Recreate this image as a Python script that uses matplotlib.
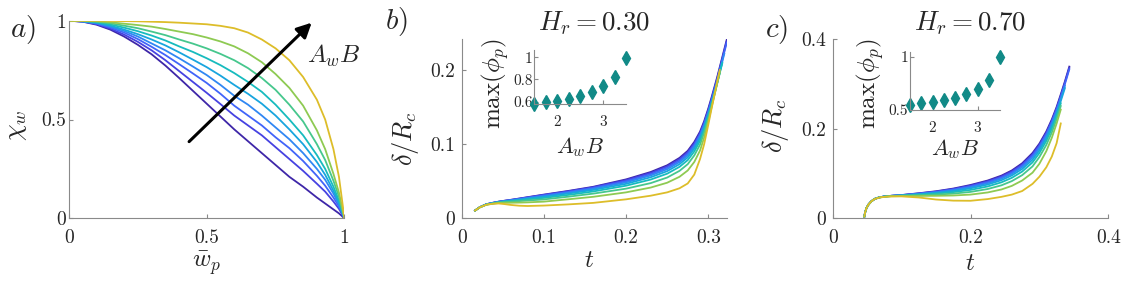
import numpy as np
import matplotlib
matplotlib.use('Agg')
import matplotlib.pyplot as plt
from matplotlib.colors import LinearSegmentedColormap

plt.rcParams['mathtext.fontset'] = 'cm'
plt.rcParams['font.family'] = 'serif'
plt.rcParams['font.serif'] = ['cmr10']
plt.rcParams['axes.formatter.use_mathtext'] = True

nan = np.nan

# panel a: chi_w vs w_p, one curve per A_w B (dark -> yellow)
wp = [0, 0.05, 0.1, 0.15, 0.2, 0.25, 0.3, 0.35, 0.4, 0.45, 0.5, 0.55, 0.6, 0.65, 0.7,
      0.75, 0.8, 0.85, 0.9, 0.93, 0.96, 0.98, 1.0]
chi = [
    [1, 0.995, 0.980, 0.955, 0.920, 0.878, 0.830, 0.773, 0.710, 0.645, 0.580, 0.515, 0.450, 0.390, 0.330,
     0.270, 0.210, 0.160, 0.105, 0.075, 0.045, 0.025, 0],
    [1, 0.996, 0.983, 0.960, 0.930, 0.893, 0.850, 0.800, 0.745, 0.690, 0.635, 0.578, 0.520, 0.470, 0.420,
     0.360, 0.300, 0.240, 0.175, 0.135, 0.085, 0.048, 0],
    [1, 0.996, 0.985, 0.966, 0.940, 0.907, 0.868, 0.826, 0.780, 0.733, 0.685, 0.630, 0.570, 0.520, 0.470,
     0.410, 0.355, 0.290, 0.215, 0.165, 0.105, 0.060, 0],
    [1, 0.997, 0.988, 0.971, 0.948, 0.920, 0.885, 0.850, 0.810, 0.768, 0.725, 0.675, 0.620, 0.575, 0.520,
     0.460, 0.400, 0.330, 0.250, 0.195, 0.125, 0.070, 0],
    [1, 0.997, 0.990, 0.975, 0.955, 0.932, 0.905, 0.875, 0.840, 0.803, 0.765, 0.722, 0.675, 0.630, 0.580,
     0.520, 0.450, 0.375, 0.285, 0.220, 0.140, 0.080, 0],
    [1, 0.998, 0.993, 0.981, 0.965, 0.947, 0.925, 0.900, 0.870, 0.842, 0.810, 0.775, 0.735, 0.690, 0.640,
     0.575, 0.500, 0.420, 0.320, 0.250, 0.160, 0.090, 0],
    [1, 0.999, 0.995, 0.987, 0.975, 0.962, 0.945, 0.927, 0.905, 0.884, 0.860, 0.832, 0.800, 0.760, 0.710,
     0.650, 0.575, 0.490, 0.375, 0.295, 0.190, 0.110, 0],
    [1, 0.999, 0.997, 0.992, 0.985, 0.978, 0.970, 0.958, 0.945, 0.932, 0.915, 0.895, 0.870, 0.835, 0.790,
     0.730, 0.660, 0.570, 0.445, 0.350, 0.225, 0.130, 0],
    [1, 1.000, 1.000, 0.999, 0.998, 0.997, 0.995, 0.993, 0.990, 0.986, 0.982, 0.974, 0.962, 0.940, 0.905,
     0.860, 0.800, 0.715, 0.600, 0.500, 0.350, 0.210, 0],
]

# panel b: H_r = 0.30
t_b = [0.0162, 0.022, 0.03, 0.038, 0.045, 0.052, 0.06, 0.07, 0.08, 0.1, 0.13, 0.16, 0.2, 0.23,
       0.25, 0.265, 0.275, 0.283, 0.29, 0.295, 0.3, 0.304, 0.308, 0.311, 0.314, 0.317, 0.3195, 0.3224]
delta_b = [
    [0.0105, 0.0150, 0.0190, 0.0210, 0.0225, 0.0237, 0.0250, 0.0267, 0.0285, 0.0320, 0.0370, 0.0425, 0.0525, 0.0625,
     0.0715, 0.0815, 0.0910, 0.1030, 0.1170, 0.1310, 0.1480, 0.1630, 0.1790, 0.1910, 0.2040, 0.2170, 0.2280, 0.2405],
    [0.0105, 0.0150, 0.0190, 0.0209, 0.0224, 0.0236, 0.0248, 0.0265, 0.0282, 0.0316, 0.0365, 0.0419, 0.0515, 0.0612,
     0.0700, 0.0798, 0.0892, 0.1010, 0.1150, 0.1290, 0.1460, 0.1610, 0.1770, 0.1890, 0.2020, 0.2150, 0.2260, 0.2385],
    [0.0105, 0.0150, 0.0189, 0.0208, 0.0223, 0.0234, 0.0245, 0.0261, 0.0278, 0.0310, 0.0357, 0.0410, 0.0500, 0.0595,
     0.0682, 0.0778, 0.0872, 0.0990, 0.1130, 0.1270, 0.1440, 0.1590, 0.1750, 0.1870, 0.2000, 0.2130, 0.2240, 0.2365],
    [0.0105, 0.0150, 0.0188, 0.0206, 0.0221, 0.0232, 0.0242, 0.0257, 0.0272, 0.0300, 0.0347, 0.0398, 0.0485, 0.0578,
     0.0662, 0.0758, 0.0850, 0.0968, 0.1108, 0.1250, 0.1420, 0.1570, 0.1730, 0.1850, 0.1980, 0.2110, 0.2220, nan],
    [0.0105, 0.0149, 0.0187, 0.0205, 0.0219, 0.0229, 0.0238, 0.0251, 0.0265, 0.0290, 0.0335, 0.0383, 0.0465, 0.0554,
     0.0636, 0.0730, 0.0822, 0.0940, 0.1080, 0.1225, 0.1400, 0.1555, 0.1715, 0.1840, 0.1970, 0.2100, nan, nan],
    [0.0105, 0.0149, 0.0186, 0.0203, 0.0216, 0.0224, 0.0232, 0.0243, 0.0255, 0.0275, 0.0316, 0.0362, 0.0440, 0.0523,
     0.0602, 0.0694, 0.0785, 0.0902, 0.1045, 0.1195, 0.1375, 0.1535, 0.1700, 0.1830, 0.1960, 0.2090, nan, nan],
    [0.0105, 0.0149, 0.0185, 0.0200, 0.0212, 0.0218, 0.0224, 0.0232, 0.0240, 0.0255, 0.0292, 0.0333, 0.0400, 0.0475,
     0.0550, 0.0640, 0.0730, 0.0848, 0.0995, 0.1155, 0.1345, 0.1515, 0.1690, 0.1825, 0.1960, nan, nan, nan],
    [0.0105, 0.0148, 0.0184, 0.0197, 0.0207, 0.0209, 0.0210, 0.0212, 0.0215, 0.0225, 0.0257, 0.0290, 0.0350, 0.0415,
     0.0480, 0.0560, 0.0645, 0.0760, 0.0915, 0.1090, 0.1305, 0.1495, 0.1685, 0.1830, 0.1970, nan, nan, nan],
    [0.0105, 0.0148, 0.0183, 0.0196, 0.0200, 0.0192, 0.0180, 0.0170, 0.0166, 0.0172, 0.0188, 0.0208, 0.0256, 0.0305,
     0.0350, 0.0405, 0.0470, 0.0590, 0.0800, 0.1000, 0.1260, 0.1480, 0.1690, 0.1850, 0.2000, nan, nan, nan],
]

# panel c: H_r = 0.70
t_c = [0.0459, 0.047, 0.049, 0.052, 0.056, 0.061, 0.068, 0.076, 0.085, 0.1, 0.125, 0.15, 0.175,
       0.2, 0.225, 0.245, 0.26, 0.275, 0.29, 0.30, 0.31, 0.318, 0.325, 0.331, 0.337, 0.3434]
delta_c = [
    [0.004, 0.013, 0.023, 0.031, 0.038, 0.0435, 0.047, 0.049, 0.0503, 0.052, 0.056, 0.0605, 0.0665,
     0.0745, 0.0845, 0.0955, 0.107, 0.123, 0.146, 0.167, 0.194, 0.221, 0.249, 0.277, 0.306, 0.339],
    [0.004, 0.013, 0.023, 0.031, 0.038, 0.0435, 0.047, 0.049, 0.0503, 0.0519, 0.0556, 0.0598, 0.0655,
     0.0730, 0.0828, 0.0935, 0.1048, 0.1205, 0.143, 0.164, 0.191, 0.218, 0.246, 0.274, 0.303, 0.336],
    [0.004, 0.013, 0.023, 0.031, 0.038, 0.0435, 0.047, 0.049, 0.0502, 0.0517, 0.0551, 0.0590, 0.0643,
     0.0715, 0.0808, 0.0913, 0.1023, 0.1178, 0.140, 0.161, 0.188, 0.215, 0.243, 0.271, 0.300, 0.333],
    [0.004, 0.013, 0.023, 0.031, 0.038, 0.0435, 0.047, 0.049, 0.0502, 0.0515, 0.0545, 0.0580, 0.0628,
     0.0695, 0.0785, 0.0887, 0.0995, 0.1145, 0.136, 0.157, 0.184, 0.211, 0.239, 0.267, 0.296, nan],
    [0.004, 0.013, 0.023, 0.031, 0.038, 0.0435, 0.047, 0.0489, 0.0501, 0.0512, 0.0538, 0.0568, 0.0610,
     0.0670, 0.0755, 0.0853, 0.0958, 0.1103, 0.131, 0.152, 0.179, 0.206, 0.234, 0.262, 0.291, nan],
    [0.004, 0.013, 0.023, 0.031, 0.038, 0.0435, 0.0469, 0.0488, 0.0499, 0.0508, 0.0528, 0.0552, 0.0585,
     0.0635, 0.0712, 0.0805, 0.0905, 0.1045, 0.125, 0.146, 0.173, 0.200, 0.229, 0.257, nan, nan],
    [0.004, 0.013, 0.023, 0.031, 0.038, 0.0434, 0.0468, 0.0486, 0.0497, 0.0503, 0.0515, 0.0530, 0.0552,
     0.0590, 0.0655, 0.0738, 0.0832, 0.0965, 0.116, 0.137, 0.164, 0.192, 0.222, 0.251, nan, nan],
    [0.004, 0.013, 0.023, 0.031, 0.038, 0.0433, 0.0466, 0.0484, 0.0494, 0.0497, 0.0500, 0.0503, 0.0510,
     0.0530, 0.0578, 0.0645, 0.0725, 0.0845, 0.102, 0.122, 0.150, 0.180, 0.212, 0.243, nan, nan],
    [0.004, 0.013, 0.023, 0.031, 0.038, 0.0432, 0.0465, 0.048, 0.0488, 0.049, 0.0465, 0.042, 0.0395,
     0.0392, 0.043, 0.048, 0.053, 0.061, 0.077, 0.093, 0.114, 0.138, 0.168, 0.212, nan, nan],
]

# insets: max(phi_p) vs A_w B
awb = [1.5, 1.75, 2.0, 2.25, 2.5, 2.75, 3.0, 3.25, 3.5]
phimax_b = [0.576, 0.594, 0.606, 0.627, 0.651, 0.690, 0.740, 0.824, 0.997]
phimax_c = [0.547, 0.5625, 0.578, 0.597, 0.616, 0.650, 0.694, 0.780, 0.994]

parula = LinearSegmentedColormap.from_list('parula', [
    (0.2422, 0.1504, 0.6603), (0.2803, 0.2782, 0.9221), (0.2440, 0.4358, 0.9988),
    (0.1540, 0.5902, 0.9218), (0.0297, 0.7082, 0.8163), (0.1938, 0.7758, 0.6251),
    (0.5044, 0.7993, 0.3480), (0.8634, 0.7406, 0.1596), (0.9892, 0.8136, 0.1885),
    (0.9763, 0.9831, 0.0538)])
colors = [parula(f) for f in np.linspace(0, 0.78, len(chi))]

spine_col = '#8a8a8a'
txt_col = '#262626'
teal = '#118a87'


def style(ax, fs=14, xpad=7.5, ypad=3):
    for s in ['top', 'right']:
        ax.spines[s].set_visible(False)
    for s in ['left', 'bottom']:
        ax.spines[s].set_color(spine_col)
        ax.spines[s].set_linewidth(0.8)
    ax.tick_params(direction='in', length=3, width=0.8, color=spine_col,
                   labelsize=fs, labelcolor=txt_col)
    ax.tick_params(axis='x', pad=xpad)
    ax.tick_params(axis='y', pad=ypad)
    ax.set_facecolor('none')


fig = plt.figure(figsize=(11.44, 2.85), dpi=100)

# ---- panel a
ax = fig.add_axes([0.0603, 0.234, 0.2408, 0.6933])
for y, c in zip(chi, colors):
    ax.plot(wp, y, color=c, lw=1.3)
ax.set_xlim(0, 1)
ax.set_ylim(0, 1)
ax.set_xticks([0, 0.5, 1])
ax.set_xticklabels(['0', '0.5', '1'])
ax.set_yticks([0, 0.5, 1])
ax.set_yticklabels(['0', '0.5', '1'])
style(ax, ypad=2)
ax.set_xlabel(r'$\bar{w}_p$', fontsize=18, va='center', color=txt_col)
ax.xaxis.set_label_coords(0.5, -0.225)
ax.set_ylabel(r'$\chi_w$', fontsize=19, va='center', color=txt_col)
ax.yaxis.set_label_coords(-0.19, 0.47)
ax.annotate('', xy=(0.881, 0.99), xytext=(0.436, 0.388),
            arrowprops=dict(arrowstyle='-|>', color='k', lw=2.2, mutation_scale=22,
                            shrinkA=0, shrinkB=0))
ax.text(0.865, 0.82, r'$A_wB$', fontsize=18, ha='left', va='center', color=txt_col)

# ---- panel b
axb = fig.add_axes([0.4036, 0.234, 0.2316, 0.628])
for y, c in zip(delta_b, colors):
    axb.plot(t_b, y, color=c, lw=1.3)
axb.set_xlim(0, 0.3224)
axb.set_ylim(0, 0.2414)
axb.set_xticks([0, 0.1, 0.2, 0.3])
axb.set_xticklabels(['0', '0.1', '0.2', '0.3'])
axb.set_yticks([0, 0.1, 0.2])
axb.set_yticklabels(['0', '0.1', '0.2'])
style(axb, ypad=4.5)
axb.set_xlabel(r'$t$', fontsize=18, va='center', color=txt_col)
axb.xaxis.set_label_coords(0.48, -0.24)
axb.set_ylabel(r'$\delta/R_c$', fontsize=19, va='center', color=txt_col)
axb.yaxis.set_label_coords(-0.214, 0.445)
axb.text(0.5, 1.088, r'$H_r = 0.30$', transform=axb.transAxes, fontsize=19.5,
         ha='center', va='center', color=txt_col)

# ---- panel c
axc = fig.add_axes([0.7279, 0.234, 0.2409, 0.628])
for y, c in zip(delta_c, colors):
    axc.plot(t_c, y, color=c, lw=1.3)
axc.set_xlim(0, 0.4)
axc.set_ylim(0, 0.4)
axc.set_xticks([0, 0.2, 0.4])
axc.set_xticklabels(['0', '0.2', '0.4'])
axc.set_yticks([0, 0.2, 0.4])
axc.set_yticklabels(['0', '0.2', '0.4'])
style(axc, ypad=4.5)
axc.set_xlabel(r'$t$', fontsize=18, va='center', color=txt_col)
axc.xaxis.set_label_coords(0.5, -0.255)
axc.set_ylabel(r'$\delta/R_c$', fontsize=19, va='center', color=txt_col)
axc.yaxis.set_label_coords(-0.209, 0.52)
axc.text(0.5, 1.088, r'$H_r = 0.70$', transform=axc.transAxes, fontsize=19.5,
         ha='center', va='center', color=txt_col)

# ---- insets
ib = fig.add_axes([0.4672, 0.634, 0.080, 0.1905])
ib.plot(awb, phimax_b, 'd', color=teal, ms=7, clip_on=False)
ib.set_xlim(1.5, 3.5)
ib.set_ylim(0.576, 1.065)
ib.set_xticks([2, 3])
ib.set_xticklabels(['2', '3'])
ib.set_yticks([0.6, 0.8, 1])
ib.set_yticklabels(['0.6', '0.8', '1'])
style(ib, fs=11, xpad=8, ypad=1.5)
ib.set_xlabel(r'$A_wB$', fontsize=16, va='center', color=txt_col)
ib.xaxis.set_label_coords(0.497, -0.78)
ib.set_ylabel(r'$\max(\phi_p)$', fontsize=18, va='center', color=txt_col)
ib.yaxis.set_label_coords(-0.43, 0.38)

ic = fig.add_axes([0.7955, 0.614, 0.0787, 0.2046])
ic.plot(awb, phimax_c, 'd', color=teal, ms=7, clip_on=False)
ic.set_xlim(1.5, 3.5)
ic.set_ylim(0.5, 1.047)
ic.set_xticks([2, 3])
ic.set_xticklabels(['2', '3'])
ic.set_yticks([0.5, 1])
ic.set_yticklabels(['0.5', '1'])
style(ic, fs=11, xpad=8, ypad=1.5)
ic.set_xlabel(r'$A_wB$', fontsize=16, va='center', color=txt_col)
ic.xaxis.set_label_coords(0.5, -0.67)
ic.set_ylabel(r'$\max(\phi_p)$', fontsize=18, va='center', color=txt_col)
ic.yaxis.set_label_coords(-0.44, 0.46)

# panel letters
fig.text(10 / 1144, 1 - 29 / 285, r'$a)$', fontsize=21, ha='left', va='center', color=txt_col)
fig.text(385 / 1144, 1 - 22 / 285, r'$b)$', fontsize=21, ha='left', va='center', color=txt_col)
fig.text(765 / 1144, 1 - 29 / 285, r'$c)$', fontsize=21, ha='left', va='center', color=txt_col)

fig.savefig('out.png', dpi=100)
